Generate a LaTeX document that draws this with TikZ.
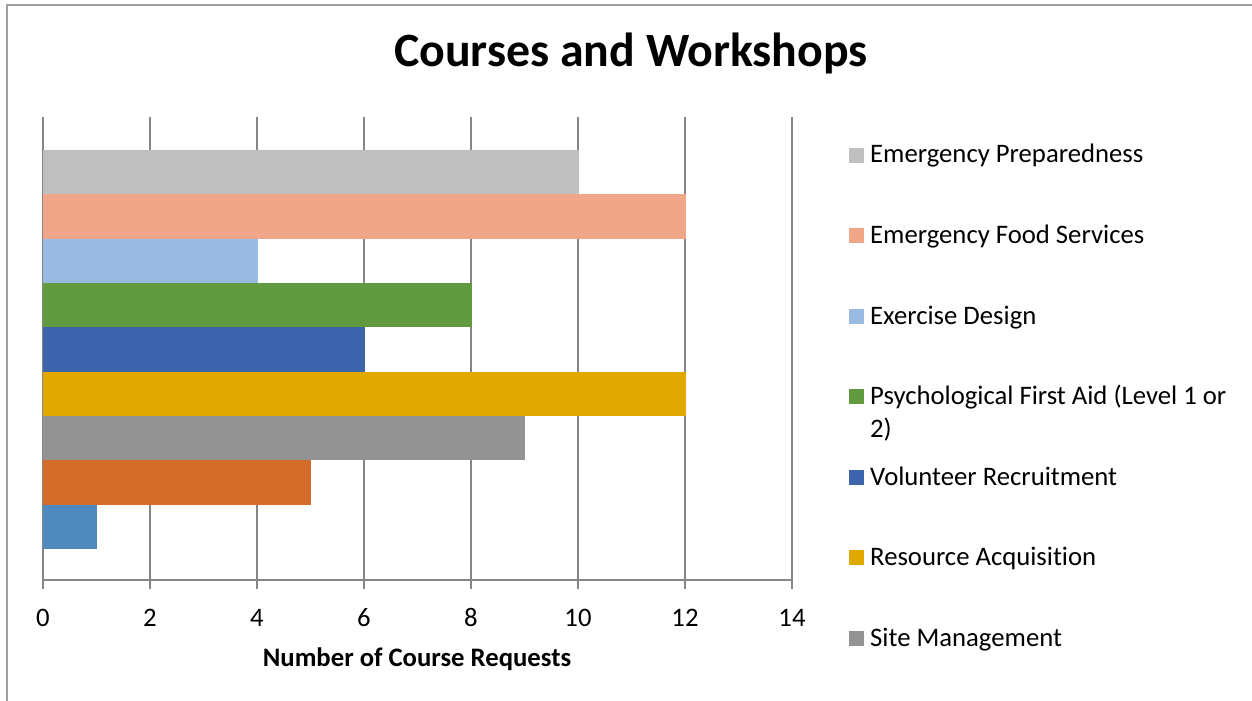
\documentclass[tikz,border=0pt]{standalone}
\usepackage{fontspec}
\setmainfont[Ligatures=CommonOff]{Carlito}
\definecolor{cEP}{HTML}{BFBFBF}
\definecolor{cEF}{HTML}{F0A789}
\definecolor{cED}{HTML}{9ABBE1}
\definecolor{cPF}{HTML}{629A3F}
\definecolor{cVR}{HTML}{3C65AE}
\definecolor{cRA}{HTML}{E1A900}
\definecolor{cSM}{HTML}{939393}
\definecolor{cOR}{HTML}{D46D29}
\definecolor{cSB}{HTML}{4F89BD}
\definecolor{gridc}{HTML}{868686}
\definecolor{framec}{HTML}{A0A0A0}
\tikzset{
  grid line/.style={draw=gridc, line width=1.4bp},
  frame line/.style={draw=framec, line width=1.5bp},
  bar/.style={draw=none},
  tick label/.style={font=\fontsize{26.8}{32}\selectfont, inner sep=0pt, anchor=base},
  legend text/.style={font=\fontsize{26.8}{32}\selectfont, inner sep=0pt, anchor=base west},
  legend key/.style={draw=none, minimum size=15bp, inner sep=0pt, anchor=south west},
}
\begin{document}
\begin{tikzpicture}[x=1bp, y=-1bp]
\useasboundingbox (0,0) rectangle (1252,701);
\fill[white] (0,0) rectangle (1252,701);
% frame
\coordinate (fbl) at (7,701);
\coordinate (ftl) at (7,5);
\coordinate (ftr) at (1252,5);
\draw[frame line] (fbl) -- (ftl) -- (ftr);
% title
\node[font=\fontsize{48}{56}\selectfont\bfseries, inner sep=0pt, anchor=base] (title) at (631,66.5) {Courses and Workshops};
% gridlines and ticks
\foreach \v [count=\i] in {0,2,...,14} {
  \coordinate (gt\i) at ({43+53.5*\v},117);
  \coordinate (gb\i) at ({43+53.5*\v},580);
  \coordinate (gk\i) at ({43+53.5*\v},589);
  \draw[grid line] (gt\i) -- (gk\i);
  \node[tick label] (tl\i) at ({43+53.5*\v},626) {\v};
}
\draw[grid line] (gb1) -- (gb8);
% bars
\foreach \val/\col [count=\i from 0] in {10/cEP,12/cEF,4/cED,8/cPF,6/cVR,12/cRA,9/cSM,5/cOR,1/cSB} {
  \fill[bar, \col] (43,{150+44.33*\i}) rectangle ({43.7+53.5*\val},{150+44.33*(\i+1)});
}
% axis title
\node[font=\fontsize{26.8}{32}\selectfont\bfseries, inner sep=0pt, anchor=base] (xtitle) at (417,666) {Number of Course Requests};
% legend
\foreach \name/\col/\txt/\y in {
  lEP/cEP/Emergency Preparedness/163,
  lEF/cEF/Emergency Food Services/243.5,
  lED/cED/Exercise Design/324,
  lPF/cPF/Psychological First Aid (Level 1 or/404.5,
  lVR/cVR/Volunteer Recruitment/485,
  lRA/cRA/Resource Acquisition/565.5,
  lSM/cSM/Site Management/646} {
  \node[legend key, fill=\col] (\name k) at (849,\y) {};
  \node[legend text] (\name t) at (870,\y) {\txt};
}
\node[legend text] (lPFt2) at (870,437) {2)};
\end{tikzpicture}
\end{document}
